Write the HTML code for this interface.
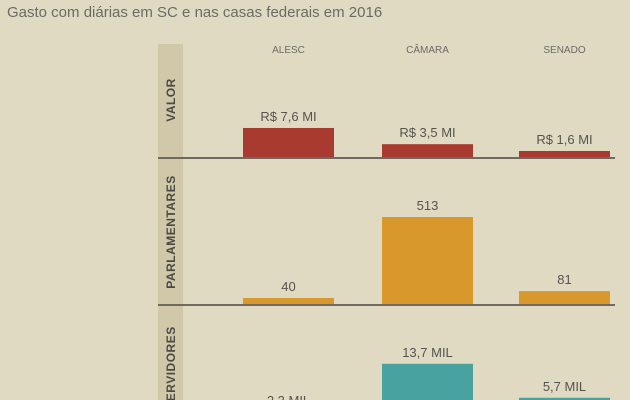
<!DOCTYPE html>
<html><head><meta charset="utf-8"><style>
html,body{margin:0;padding:0;background:#e1dac3;width:630px;height:400px;overflow:hidden;}
svg{display:block;font-family:"Liberation Sans",sans-serif;}
</style></head><body>
<svg id="c" width="630" height="400" viewBox="0 0 630 400">
<rect width="630" height="400" fill="#e1dac3"/>
<text x="7" y="17" font-size="15" fill="#6b6b66">Gasto com diárias em SC e nas casas federais em 2016</text>
<rect x="158" y="44" width="25" height="356" fill="#d1c7a9"/>
<g id="g"></g>
</svg>
<script>
const categories = ["ALESC","CÂMARA","SENADO"];
const valorValues = [7.6, 3.5, 1.6];
const valorLabels = ["R$ 7,6 MI","R$ 3,5 MI","R$ 1,6 MI"];
const parlamentaresValues = [40, 513, 81];
const parlamentaresLabels = ["40","513","81"];
const servidoresValues = [2.3, 13.7, 5.7];
const servidoresLabels = ["2,3 MIL","13,7 MIL","5,7 MIL"];

const NS="http://www.w3.org/2000/svg";
const g=document.getElementById('g');
function mk(t,a,p){const e=document.createElementNS(NS,t);for(const k in a)e.setAttribute(k,a[k]);(p||g).appendChild(e);return e;}
const barX=[243,382,519], barW=91;
function xPos(i){return barX[i];}
categories.forEach((c,i)=>{
  const t=mk('text',{x:xPos(i)+barW/2,y:53,'font-size':10,fill:'#6b6b66','text-anchor':'middle'});
  t.textContent=c;
  
  
});
const panels=[
  {name:'valor',title:'VALOR',vals:valorValues,labels:valorLabels,base:158,scale:3.95,color:'#a83a30',tc:100},
  {name:'parlamentares',title:'PARLAMENTARES',vals:parlamentaresValues,labels:parlamentaresLabels,base:305,scale:0.1715,color:'#d9982c',tc:232},
  {name:'servidores',title:'SERVIDORES',vals:servidoresValues,labels:servidoresLabels,base:422,scale:4.25,color:'#48a3a0',tc:368}
];
panels.forEach(p=>{
  const y=v=>p.base-Math.max(v*p.scale,7);
  p.vals.forEach((v,i)=>{
    const r=mk('rect',{x:xPos(i),y:y(v),width:barW,height:p.base-y(v),fill:p.color});
    
    
    const t=mk('text',{x:xPos(i)+barW/2,y:y(v)-7,'font-size':13,fill:'#55544f','text-anchor':'middle'});
    t.textContent=p.labels[i];
    
    
  });
  const l=mk('line',{x1:158,x2:615,y1:p.base,y2:p.base,stroke:'#6e6a60','stroke-width':2});
  
  
  const t=mk('text',{x:0,y:0,'font-size':12,'font-weight':'bold',fill:'#4a4944','text-anchor':'middle',transform:`translate(175,${p.tc}) rotate(-90)`,'letter-spacing':'0.5'});
  t.textContent=p.title;
  
  
});
</script>
</body></html>
